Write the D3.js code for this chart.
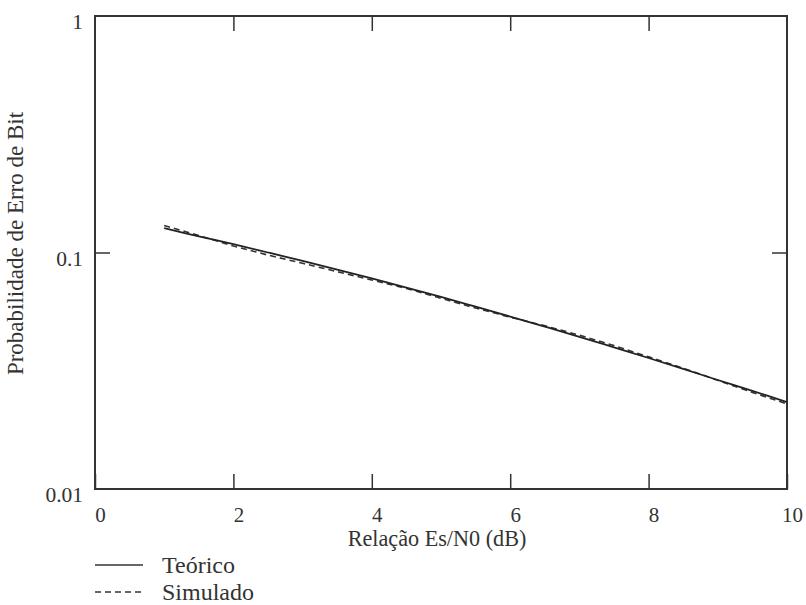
<!DOCTYPE html>
<html>
<head>
<meta charset="utf-8">
<script src="https://cdn.jsdelivr.net/npm/d3@7"></script>
<style>
  body { margin: 0; background: #fff; }
  svg text { font-family: "Liberation Serif", "Times New Roman", Times, serif; fill: #333; }
</style>
</head>
<body>
<div id="chart"></div>
<script>
// Es/N0 values (dB)
var snr = [1, 1.5, 2, 2.5, 3, 3.5, 4, 4.5, 5, 5.5, 6, 6.5, 7, 7.5, 8, 8.5, 9, 9.5, 10];
// bit error probability
var teorico = [0.1267, 0.117, 0.1085, 0.1000, 0.0921, 0.0847, 0.0777, 0.0711, 0.0649, 0.0590,
               0.0536, 0.0486, 0.0440, 0.0397, 0.0358, 0.0322, 0.0289, 0.0260, 0.0233];
var simulado = [0.1300, 0.118, 0.1065, 0.0975, 0.0900, 0.0830, 0.0765, 0.0705, 0.0640, 0.0582,
                0.0533, 0.0490, 0.0447, 0.0404, 0.0362, 0.0324, 0.0288, 0.0256, 0.0229];
var xTicks = [0, 2, 4, 6, 8, 10];
var yTicks = [0.01, 0.1, 1];
var yTickLabels = ["0.01", "0.1", "1"];

var margin = { top: 16, right: 19, bottom: 116, left: 95 },
    width = 806 - margin.left - margin.right,
    height = 605 - margin.top - margin.bottom;

var svg = d3.select("#chart")
  .append("svg")
  .attr("width", 806)
  .attr("height", 605)
  .append("g")
  .attr("transform", "translate(" + margin.left + "," + margin.top + ")");

var x = d3.scaleLinear().domain([0, 10]).range([0, width]);
var y = d3.scaleLog().domain([0.01, 1]).range([height, 0]);

var ink = "#333";
var serif = "'Liberation Serif', 'Times New Roman', serif";

// frame
svg.append("rect")
  .attr("width", width)
  .attr("height", height)
  .attr("fill", "none")
  .attr("stroke", ink)
  .attr("stroke-width", 2);

// inward ticks, bottom and top
svg.append("g")
  .attr("transform", "translate(0," + height + ")")
  .call(d3.axisBottom(x).tickValues(xTicks).tickSizeInner(-15).tickSizeOuter(0).tickPadding(18))
  .call(function(g) {
    g.attr("font-family", serif);
    g.select(".domain").remove();
    g.selectAll("line").attr("stroke", ink).attr("stroke-width", 1.5);
    g.selectAll("text").attr("dx", 5).style("font-size", "21px").attr("fill", ink);
  });

svg.append("g")
  .call(d3.axisTop(x).tickValues(xTicks.slice(1, -1)).tickSizeInner(-15).tickSizeOuter(0).tickFormat(""))
  .call(function(g) {
    g.select(".domain").remove();
    g.selectAll("line").attr("stroke", ink).attr("stroke-width", 1.5);
  });

svg.append("g")
  .call(d3.axisLeft(y).tickValues(yTicks).tickSizeInner(-15).tickSizeOuter(0).tickPadding(26)
    .tickFormat(function(d, i) { return yTickLabels[i]; }))
  .call(function(g) {
    g.attr("font-family", serif);
    g.select(".domain").remove();
    g.selectAll("line").attr("stroke", ink).attr("stroke-width", 1.5)
      .attr("display", function(d) { return d === 0.1 ? null : "none"; });
    g.selectAll("text").attr("dy", "0.6em").attr("x", -12).style("font-size", "21.5px").attr("fill", ink);
  });

svg.append("g")
  .attr("transform", "translate(" + width + ",0)")
  .call(d3.axisRight(y).tickValues([0.1]).tickSizeInner(-15).tickSizeOuter(0).tickFormat(""))
  .call(function(g) {
    g.select(".domain").remove();
    g.selectAll("line").attr("stroke", ink).attr("stroke-width", 1.5);
  });

// axis titles
svg.append("text")
  .attr("x", width / 2 - 4)
  .attr("y", height + 57)
  .attr("text-anchor", "middle")
  .style("font-size", "22.2px")
  .text("Relação Es/N0 (dB)");

svg.append("text")
  .attr("transform", "translate(-72," + (height / 2 - 9) + ") rotate(-90)")
  .attr("text-anchor", "middle")
  .style("font-size", "23px")
  .text("Probabilidade de Erro de Bit");

// curves
var line = d3.line()
  .x(function(d) { return x(d[0]); })
  .y(function(d) { return y(d[1]); });

svg.append("path")
  .datum(d3.zip(snr, simulado))
  .attr("d", line)
  .attr("fill", "none")
  .attr("stroke", "#333")
  .attr("stroke-width", 1.6)
  .attr("stroke-dasharray", "6,4");

svg.append("path")
  .datum(d3.zip(snr, teorico))
  .attr("d", line.curve(d3.curveCatmullRom))
  .attr("fill", "none")
  .attr("stroke", "#222")
  .attr("stroke-width", 1.8);

// legend
var legend = svg.append("g").attr("transform", "translate(0," + (height + 60) + ")");
var items = [["Teórico", null], ["Simulado", "6,4"]];
items.forEach(function(it, i) {
  var gy = i * 27;
  legend.append("line")
    .attr("x1", 0).attr("x2", 48)
    .attr("y1", gy + 16).attr("y2", gy + 16)
    .attr("stroke", "#333")
    .attr("stroke-width", 1.6)
    .attr("stroke-dasharray", it[1]);
  legend.append("text")
    .attr("x", 67)
    .attr("y", gy + 24)
    .style("font-size", "24px")
    .text(it[0]);
});
</script>
</body>
</html>
